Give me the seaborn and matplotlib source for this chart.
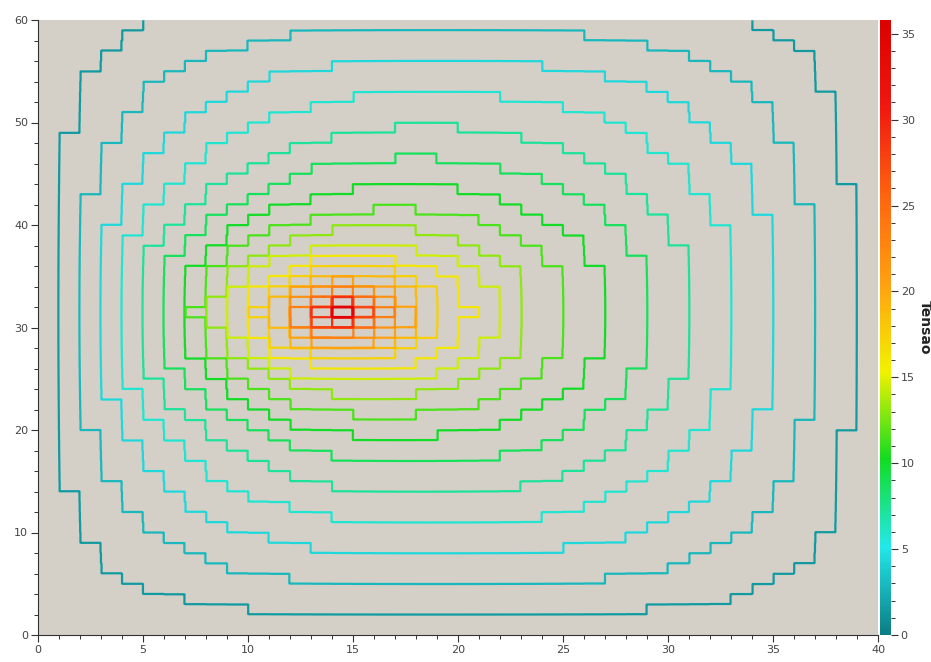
import numpy as np
import matplotlib
matplotlib.use("Agg")
import matplotlib.pyplot as plt
import seaborn as sns
from matplotlib.colors import Normalize
from matplotlib.cm import ScalarMappable
from matplotlib.ticker import MultipleLocator

# ---------------- data ----------------
VIEW_W, VIEW_H = 40, 60              # plotted part of the plate (cells)
FRAME_W, FRAME_H = 40, 64            # earthed frame of the plate (cells)
SOURCE_CELLS = [(14, 31), (13, 30), (14, 30), (13, 31), (14, 32)]
SOURCE_CHARGES = [0.56, 0.11, 0.11, 0.11, 0.11]
BACKGROUND_CHARGE = 0.00062          # uniform charge per cell
PEAK_VOLTAGE = 35.8                  # top of the colour bar
CONTOUR_LEVELS = [1.45, 2.9, 4.35, 5.8, 7.25, 8.7, 10.15, 11.6, 13.05, 14.5,
                  15.95, 17.4, 18.85, 20.3, 21.75, 23.2, 24.65, 26.1, 27.55,
                  29.0, 30.45, 31.9, 33.35, 34.8]
X_TICKS = [0, 5, 10, 15, 20, 25, 30, 35, 40]
Y_TICKS = [0, 10, 20, 30, 40, 50, 60]
CBAR_TICKS = [0, 5, 10, 15, 20, 25, 30, 35]
CMAP_COLORS = ["#0b7d84", "#22e8ea", "#12dc20", "#f2f200", "#ffa010",
               "#ff6410", "#f01810", "#dc0000"]
CBAR_LABEL = "Tensao"

# ---------------- potential field (Poisson, earthed frame) ----------------
def lap1d(n):
    return (np.diag(-2.0 * np.ones(n)) + np.diag(np.ones(n - 1), 1)
            + np.diag(np.ones(n - 1), -1))

lx, qx = np.linalg.eigh(lap1d(FRAME_W))
ly, qy = np.linalg.eigh(lap1d(FRAME_H))
rho = np.full((FRAME_H, FRAME_W), BACKGROUND_CHARGE)
for (cx, cy), q in zip(SOURCE_CELLS, SOURCE_CHARGES):
    rho[cy, cx] += q
vh = (qy.T @ (-rho) @ qx) / (ly[:, None] + lx[None, :])
field = qy @ vh @ qx.T
field *= PEAK_VOLTAGE / field.max()
field = field[:VIEW_H, :VIEW_W]

k = 16
field_up = np.kron(field, np.ones((k, k)))
xs = (np.arange(VIEW_W * k) + 0.5) / k
ys = (np.arange(VIEW_H * k) + 0.5) / k

# ---------------- drawing ----------------
sns.set_theme(style="ticks")
plt.rcParams["font.family"] = ["DejaVu Sans"]

cmap = sns.blend_palette(CMAP_COLORS, as_cmap=True)
norm = Normalize(vmin=0, vmax=PEAK_VOLTAGE)

fig = plt.figure(figsize=(9.31, 6.62), dpi=100)
ax = fig.add_axes([38 / 931, 27 / 662, 840 / 931, 615 / 662])
cax = fig.add_axes([880 / 931, 27 / 662, 11 / 931, 615 / 662])

ax.set_facecolor("#d4d0c8")
ax.contour(xs, ys, field_up, levels=CONTOUR_LEVELS, cmap=cmap, norm=norm,
           linewidths=1.6)
ax.set_xlim(0, 40)
ax.set_ylim(0, 60)
ax.set_xticks(X_TICKS)
ax.set_yticks(Y_TICKS)
ax.xaxis.set_minor_locator(MultipleLocator(1))
ax.yaxis.set_minor_locator(MultipleLocator(2))
for s in ["top", "right"]:
    ax.spines[s].set_visible(False)
for s in ["left", "bottom"]:
    ax.spines[s].set_color("#333333")
    ax.spines[s].set_linewidth(0.8)
ax.tick_params(which="major", direction="out", length=5, width=0.8,
               color="#333333", labelsize=8, labelcolor="#444444", pad=2)
ax.tick_params(which="minor", direction="out", length=3, width=0.7,
               color="#333333")
ax.grid(False)

cb = fig.colorbar(ScalarMappable(norm=norm, cmap=cmap), cax=cax)
cb.outline.set_visible(False)
cb.set_ticks(CBAR_TICKS)
cax.yaxis.set_minor_locator(MultipleLocator(1))
cax.tick_params(which="major", direction="out", length=5, width=0.8,
                color="#333333", labelsize=8, labelcolor="#444444", pad=2)
cax.tick_params(which="minor", direction="out", length=3, width=0.7,
                color="#333333")
cax.set_ylabel(CBAR_LABEL, rotation=270, fontsize=10, fontweight="bold",
               labelpad=12, color="#222222")

fig.savefig("out.png", dpi=100)
